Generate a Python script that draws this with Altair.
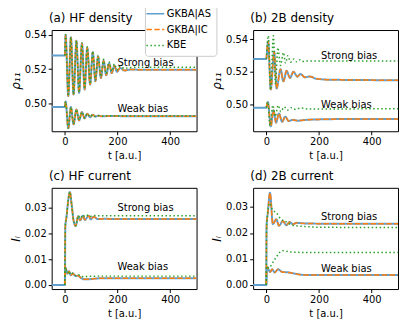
import altair as alt
import pandas as pd

METHODS = ["GKBA|AS", "GKBA|IC", "KBE"]
COLORS = ["#5f9fcf", "#ff7f0e", "#2ca02c"]
DASHES = [[1, 0], [5.5, 2.4], [1.5, 2.5]]
WIDTHS = [2.0, 1.5, 1.5]

X_TICKS = [0, 200, 400]
Y_TICKS_DENS = [0.50, 0.52, 0.54]
Y_TICKS_CURR = [0.00, 0.01, 0.02, 0.03]

# ---- (a) HF density ----
A_STRONG_T_AS = [-50, 0, 3, 13, 23, 33, 44, 54, 65, 75, 85, 96, 106, 116, 126, 137, 147, 157, 168, 178, 188, 198, 210, 225, 250, 300, 500]
A_STRONG_AS = [0.528, 0.528, 0.540, 0.5043, 0.5386, 0.5052, 0.5365, 0.5062, 0.5351, 0.5081, 0.5326, 0.511, 0.5299, 0.5129,
               0.5274, 0.5148, 0.5249, 0.5164, 0.5235, 0.5177, 0.522, 0.5185, 0.5208, 0.5192, 0.5198, 0.5196, 0.5196]
A_STRONG_IC = [0.528, 0.540, 0.5043, 0.5386, 0.5052, 0.5365, 0.5062, 0.5351, 0.5081, 0.5326, 0.511, 0.5299, 0.5129,
               0.5274, 0.5148, 0.5249, 0.5164, 0.5235, 0.5177, 0.522, 0.5185, 0.5208, 0.5192, 0.5198, 0.5196, 0.5196]
A_STRONG_KBE = [0.528, 0.540, 0.5043, 0.5386, 0.5053, 0.5366, 0.5064, 0.5353, 0.5085, 0.533, 0.5115, 0.5303, 0.5136,
                0.528, 0.5156, 0.5257, 0.5173, 0.5243, 0.5188, 0.523, 0.5196, 0.5218, 0.5205, 0.521, 0.5211, 0.5211]
A_WEAK_T_AS = [-50, 0, 3, 13, 23, 33, 44, 54, 65, 75, 85, 96, 106, 116, 126, 140, 170, 220, 300, 500]
A_WEAK_AS = [0.498, 0.498, 0.5012, 0.4855, 0.4979, 0.4878, 0.4965, 0.4901, 0.495, 0.4913, 0.494, 0.492, 0.4934, 0.4923,
             0.4929, 0.4925, 0.4927, 0.4926, 0.4926, 0.4926]
A_WEAK_IC = [0.498, 0.5012, 0.4855, 0.4979, 0.4878, 0.4965, 0.4901, 0.495, 0.4913, 0.494, 0.492, 0.4934, 0.4923,
             0.4929, 0.4925, 0.4927, 0.4926, 0.4926, 0.4926]
A_WEAK_KBE = [0.498, 0.5012, 0.4856, 0.4979, 0.488, 0.4965, 0.4903, 0.495, 0.4915, 0.494, 0.4922, 0.4934, 0.4925,
              0.493, 0.4927, 0.4928, 0.4928, 0.4928, 0.4928]

# ---- (b) 2B density ----
B_STRONG_T_AS = [-50, 0, 7, 17, 30, 39, 54, 65, 77, 90, 103, 118, 130, 147, 165, 190, 250, 500]
B_STRONG_AS = [0.528, 0.528, 0.5388, 0.5092, 0.5325, 0.5098, 0.5217, 0.5142, 0.5207, 0.5163, 0.5201, 0.5171, 0.5187,
               0.5167, 0.5172, 0.5158, 0.5152, 0.5149]
B_STRONG_IC = [0.528, 0.5388, 0.5092, 0.5325, 0.5098, 0.5217, 0.5142, 0.5207, 0.5163, 0.5201, 0.5171, 0.5187,
               0.5167, 0.5172, 0.5158, 0.5152, 0.5149]
B_STRONG_T_KBE = [0, 8, 16, 27, 35, 44, 54, 65, 73, 82, 92, 105, 115, 128, 140, 160, 200, 500]
B_STRONG_KBE = [0.528, 0.5423, 0.509, 0.5423, 0.5125, 0.535, 0.524, 0.532, 0.5255, 0.530, 0.526, 0.528, 0.5262,
                0.5275, 0.5265, 0.5268, 0.5267, 0.5267]
B_WEAK_T_AS = [-50, 0, 6, 17, 27, 37, 48, 60, 72, 85, 100, 120, 150, 200, 300, 500]
B_WEAK_AS = [0.498, 0.498, 0.5015, 0.4865, 0.4965, 0.4888, 0.4945, 0.4893, 0.4925, 0.4898, 0.4905, 0.490, 0.4905,
             0.4908, 0.491, 0.491]
B_WEAK_IC = [0.498, 0.5015, 0.4865, 0.4965, 0.4888, 0.4945, 0.4893, 0.4925, 0.4898, 0.4905, 0.490, 0.4905,
             0.4908, 0.491, 0.491]
B_WEAK_T_KBE = [0, 6, 14, 25, 34, 45, 55, 68, 80, 95, 110, 130, 160, 500]
B_WEAK_KBE = [0.498, 0.5015, 0.487, 0.4995, 0.4925, 0.4995, 0.4955, 0.4985, 0.4965, 0.498, 0.497, 0.4978, 0.4972, 0.4974]

# ---- (c) HF current ----
C_STRONG_T_AS = [-50, 0, 2, 6, 12, 19, 26, 33, 41, 51, 58, 69, 76, 91, 98, 110, 125, 150, 200, 500]
C_STRONG_AS = [0, 0, 0.023, 0.026, 0.032, 0.036, 0.031, 0.025, 0.0228, 0.0266, 0.025, 0.0268, 0.0252, 0.0268, 0.0254,
               0.0264, 0.0255, 0.0256, 0.0255, 0.0255]
C_STRONG_IC = [0, 0.023, 0.026, 0.032, 0.036, 0.031, 0.025, 0.0228, 0.0266, 0.025, 0.0268, 0.0252, 0.0268, 0.0254,
               0.0264, 0.0255, 0.0256, 0.0255, 0.0255]
C_STRONG_KBE = [0, 0.023, 0.026, 0.032, 0.036, 0.031, 0.025, 0.0229, 0.0268, 0.0258, 0.0271, 0.0264, 0.0271, 0.0266,
                0.0269, 0.0268, 0.0268, 0.0268, 0.0268]
C_WEAK_T_AS = [-50, 0, 2, 10, 16, 22, 31, 41, 50, 60, 72, 90, 120, 160, 500]
C_WEAK_AS = [0, 0, 0.0068, 0.0044, 0.0053, 0.0037, 0.0044, 0.0034, 0.0036, 0.0028, 0.0022, 0.0022, 0.0025, 0.0026, 0.0026]
C_WEAK_IC = [0, 0.0068, 0.0044, 0.0053, 0.0037, 0.0044, 0.0034, 0.0036, 0.0028, 0.0022, 0.0022, 0.0025, 0.0026, 0.0026]
C_WEAK_KBE = [0, 0.0068, 0.0046, 0.0054, 0.004, 0.0046, 0.0036, 0.004, 0.0034, 0.0032, 0.0033, 0.0034, 0.0034, 0.0034]

# ---- (d) 2B current ----
D_STRONG_T_AS = [-50, 0, 1, 6, 14, 25, 38, 48, 63, 76, 89, 101, 115, 140, 200, 500]
D_STRONG_AS = [0, 0, 0.0228, 0.028, 0.0355, 0.0234, 0.0253, 0.0228, 0.0246, 0.023, 0.0242, 0.0234, 0.0239, 0.0237,
               0.0236, 0.0236]
D_STRONG_IC = [0, 0.0228, 0.028, 0.0355, 0.0234, 0.0253, 0.0228, 0.0246, 0.023, 0.0242, 0.0234, 0.0239, 0.0237,
               0.0236, 0.0236]
D_STRONG_T_KBE = [0, 1, 4, 13, 23, 38, 54, 76, 99, 149, 200, 500]
D_STRONG_KBE = [0, 0.020, 0.0265, 0.0315, 0.029, 0.0278, 0.0255, 0.0243, 0.023, 0.0225, 0.0222, 0.0221]
D_WEAK_T_AS = [-50, 0, 2, 15, 22, 32, 45, 60, 85, 110, 150, 200, 500]
D_WEAK_AS = [0, 0, 0.007, 0.005, 0.006, 0.0048, 0.006, 0.005, 0.0048, 0.0043, 0.0038, 0.0038, 0.0038]
D_WEAK_IC = [0, 0.007, 0.005, 0.006, 0.0048, 0.006, 0.005, 0.0048, 0.0043, 0.0038, 0.0038, 0.0038]
D_WEAK_T_KBE = [0, 2, 10, 20, 30, 40, 50, 62, 75, 100, 150, 500]
D_WEAK_KBE = [0, 0.0072, 0.0065, 0.0078, 0.0095, 0.011, 0.0124, 0.0132, 0.013, 0.0126, 0.0125, 0.0125]

# ---- annotations ----
ANN_PANEL = ["a", "a", "b", "b", "c", "c", "d", "d"]
ANN_T = [200, 200, 208, 208, 200, 200, 208, 208]
ANN_V = [0.5234, 0.4969, 0.5301, 0.4998, 0.0296, 0.0069, 0.0262, 0.0061]
ANN_LABEL = ["Strong bias", "Weak bias"] * 4

rows = []


def add(panel, bias, method, ts, vs):
    for t, v in zip(ts, vs):
        rows.append({"panel": panel, "bias": bias, "method": method, "t": t, "v": v})


add("a", "strong", "GKBA|AS", A_STRONG_T_AS, A_STRONG_AS)
add("a", "strong", "GKBA|IC", A_STRONG_T_AS[1:], A_STRONG_IC)
add("a", "strong", "KBE", A_STRONG_T_AS[1:], A_STRONG_KBE)
add("a", "weak", "GKBA|AS", A_WEAK_T_AS, A_WEAK_AS)
add("a", "weak", "GKBA|IC", A_WEAK_T_AS[1:], A_WEAK_IC)
add("a", "weak", "KBE", A_WEAK_T_AS[1:], A_WEAK_KBE)

add("b", "strong", "GKBA|AS", B_STRONG_T_AS, B_STRONG_AS)
add("b", "strong", "GKBA|IC", B_STRONG_T_AS[1:], B_STRONG_IC)
add("b", "strong", "KBE", B_STRONG_T_KBE, B_STRONG_KBE)
add("b", "weak", "GKBA|AS", B_WEAK_T_AS, B_WEAK_AS)
add("b", "weak", "GKBA|IC", B_WEAK_T_AS[1:], B_WEAK_IC)
add("b", "weak", "KBE", B_WEAK_T_KBE, B_WEAK_KBE)

add("c", "strong", "GKBA|AS", C_STRONG_T_AS, C_STRONG_AS)
add("c", "strong", "GKBA|IC", C_STRONG_T_AS[1:], C_STRONG_IC)
add("c", "strong", "KBE", C_STRONG_T_AS[1:], C_STRONG_KBE)
add("c", "weak", "GKBA|AS", C_WEAK_T_AS, C_WEAK_AS)
add("c", "weak", "GKBA|IC", C_WEAK_T_AS[1:], C_WEAK_IC)
add("c", "weak", "KBE", C_WEAK_T_AS[1:], C_WEAK_KBE)

add("d", "strong", "GKBA|AS", D_STRONG_T_AS, D_STRONG_AS)
add("d", "strong", "GKBA|IC", D_STRONG_T_AS[1:], D_STRONG_IC)
add("d", "strong", "KBE", D_STRONG_T_KBE, D_STRONG_KBE)
add("d", "weak", "GKBA|AS", D_WEAK_T_AS, D_WEAK_AS)
add("d", "weak", "GKBA|IC", D_WEAK_T_AS[1:], D_WEAK_IC)
add("d", "weak", "KBE", D_WEAK_T_KBE, D_WEAK_KBE)

df = pd.DataFrame(rows)
ann = pd.DataFrame({"panel": ANN_PANEL, "t": ANN_T, "v": ANN_V, "label": ANN_LABEL})

LEGEND = alt.Legend(
    title=None, orient="none", legendX=94, legendY=-27,
    symbolType="M-2,0H2", symbolSize=81, symbolStrokeWidth=1.5,
    labelFont="DejaVu Sans", labelFontSize=10, labelColor="black", labelOffset=6,
    strokeColor="#cccccc", fillColor="white", padding=5, cornerRadius=3, rowPadding=5,
)

W, H = 146, 102


def panel(key, title, ytitle, ydom, yticks, title_dx):
    d = df[df.panel == key]
    xenc = alt.X("t:Q", scale=alt.Scale(domain=[-50, 500], nice=False, zero=False),
                 axis=alt.Axis(values=X_TICKS, format="d", title="t [a.u.]", labelOverlap=False))
    yenc = alt.Y("v:Q", scale=alt.Scale(domain=ydom, nice=False, zero=False),
                 axis=alt.Axis(values=yticks, format=".2f", title=ytitle, titleFontStyle="italic",
                               titleFontSize=12, titlePadding=2,
                               labelOverlap=False, tickCount=len(yticks)))
    layers = []
    for i, m in enumerate(METHODS):
        layers.append(
            alt.Chart(d[d.method == m]).mark_line(strokeWidth=WIDTHS[i], clip=True, interpolate="monotone").encode(
                x=xenc,
                y=yenc,
                color=alt.Color("method:N", scale=alt.Scale(domain=METHODS, range=COLORS), legend=LEGEND),
                strokeDash=alt.StrokeDash("method:N", scale=alt.Scale(domain=METHODS, range=DASHES), legend=LEGEND),
                detail="bias:N",
            )
        )
    txt = alt.Chart(ann[ann.panel == key]).mark_text(
        align="left", baseline="middle", fontSize=10, font="DejaVu Sans", color="black"
    ).encode(x=xenc, y=yenc, text="label:N")
    return alt.layer(*layers, txt).properties(
        width=W, height=H, title=alt.TitleParams(title, anchor="start", dx=title_dx)
    )


pa = panel("a", "(a) HF density", "ρ₁₁", [0.4838, 0.5428], Y_TICKS_DENS, 40)
pb = panel("b", "(b) 2B density", "ρ₁₁", [0.4835, 0.5458], Y_TICKS_DENS, 40)
pc = panel("c", "(c) HF current", "Iₗ", [-0.0016, 0.0376], Y_TICKS_CURR, 40)
pd_ = panel("d", "(d) 2B current", "Iₗ", [-0.0016, 0.0374], Y_TICKS_CURR, 40)

chart = alt.concat(
    pa, pb, pc, pd_, columns=2, spacing=57, bounds="flush",
).properties(
    padding={"left": 0, "top": -7, "right": 0, "bottom": 0}
).configure_view(
    stroke="black", strokeWidth=1
).configure_axis(
    domain=False, grid=False, tickSize=3.5, tickColor="black", tickWidth=1, labelOverlap=False,
    labelFont="DejaVu Sans", labelFontSize=10, labelColor="black", labelPadding=2,
    titleFont="DejaVu Sans", titleFontSize=10, titleFontWeight="normal", titleColor="black", titlePadding=4,
).configure_title(
    anchor="start", font="DejaVu Sans", fontSize=12, fontWeight="normal", offset=5, color="black"
)

chart.save("out.html", embed_options={"renderer": "svg", "actions": False})
